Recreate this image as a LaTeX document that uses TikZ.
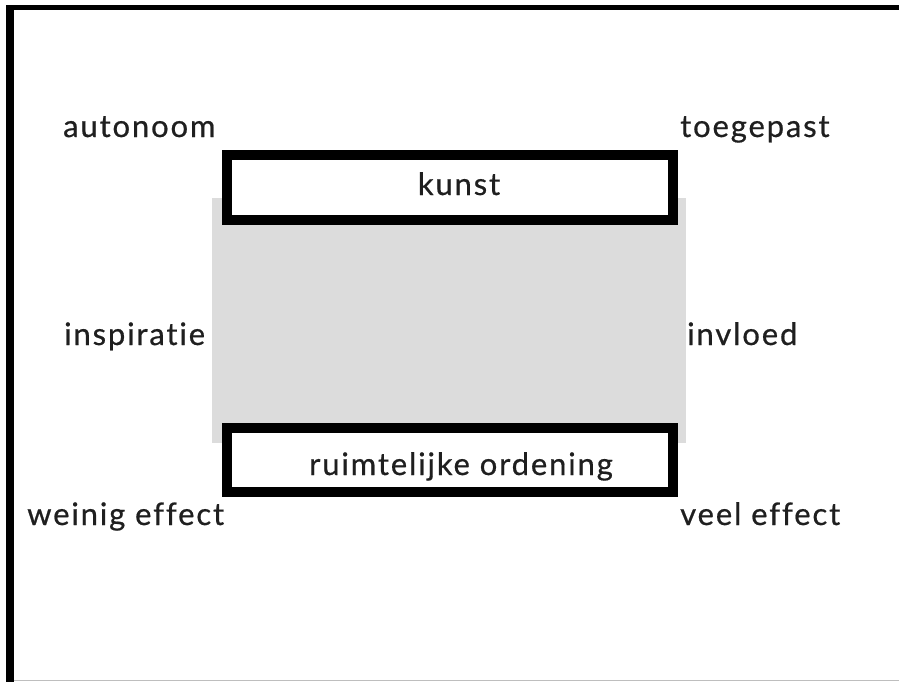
\documentclass[tikz,border=0pt]{standalone}
\usepackage{fontspec}
\setmainfont{Lato}[Ligatures=NoCommon, LetterSpace=6, FakeBold=0.6]
\usetikzlibrary{positioning}
\definecolor{veldgrijs}{RGB}{220,220,220}
\definecolor{randgrijs}{RGB}{190,190,190}
\tikzset{
  vak/.style={draw=black, line width=10pt, fill=white, minimum width=446pt, inner sep=0pt},
  woord/.style={font=\fontsize{31}{36}\selectfont, text=black!88, inner sep=0pt, anchor=base west},
}
\begin{document}
\begin{tikzpicture}[x=1pt,y=-1pt]
\useasboundingbox[fill=white] (0,0) rectangle (899,682);

% Frame of the slide
\draw[randgrijs, line width=1pt] (10,680.5) -- (899,680.5);
\draw[line width=5pt] (6,8) -- (899,8);
\draw[line width=8pt] (10,5.5) -- (10,682);

% Grey field between the two boxes
\fill[veldgrijs] (212,198) rectangle (686,443);

% Boxes
\node[vak, minimum height=65pt] (kunstvak) at (450,187.5) {};
\node[vak, minimum height=64pt] (ordeningvak) at (450,460) {};
\node[woord, anchor=base] (kunst) at (459,195) {kunst};
\node[woord, anchor=base] (ordening) at (461,475) {ruimtelijke ordening};

% Labels left and right
\node[woord] (autonoom) at (63,137) {autonoom};
\node[woord] (toegepast) at (680,137) {toegepast};
\node[woord] (inspiratie) at (64,345) {inspiratie};
\node[woord] (invloed) at (687,345) {invloed};
\node[woord] (weinig) at (27,525) {weinig effect};
\node[woord] (veel) at (680,525) {veel effect};
\end{tikzpicture}
\end{document}
